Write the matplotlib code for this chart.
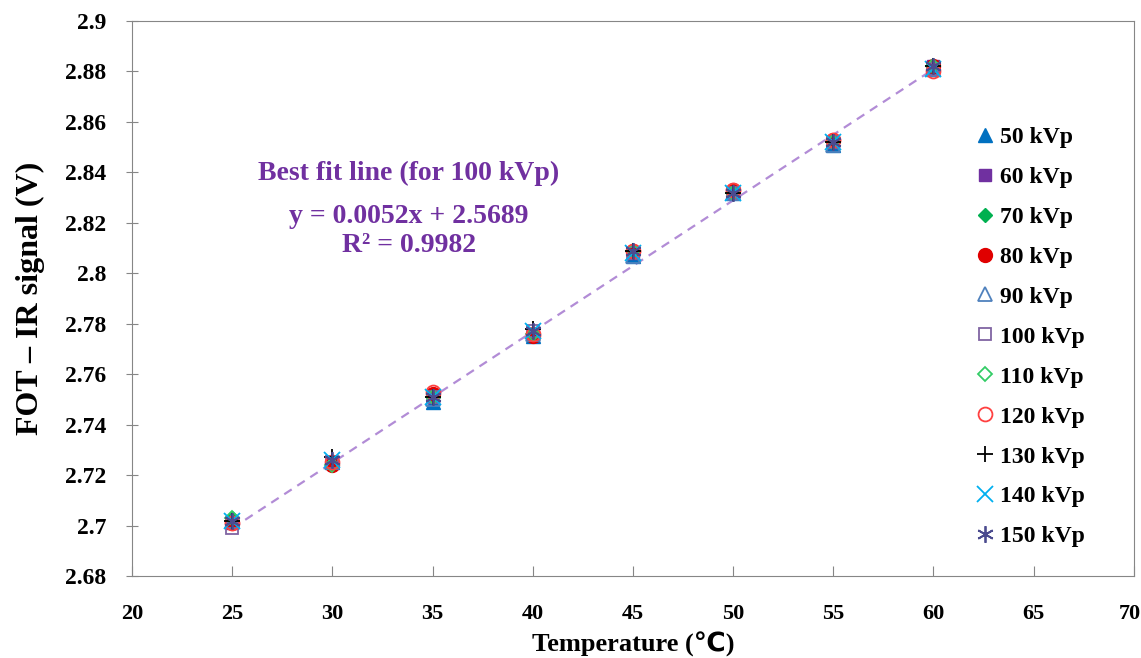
import matplotlib
matplotlib.use("Agg")
import matplotlib.pyplot as plt
from matplotlib.ticker import FuncFormatter, MultipleLocator

plt.rcParams["font.family"] = ["Liberation Serif", "DejaVu Sans"]
plt.rcParams["font.weight"] = "bold"

temperature = [25, 30, 35, 40, 45, 50, 55, 60]

kvp_50 = [2.702, 2.725, 2.749, 2.775, 2.807, 2.832, 2.851, 2.881]
kvp_60 = [2.701, 2.725, 2.751, 2.776, 2.808, 2.832, 2.852, 2.882]
kvp_70 = [2.703, 2.724, 2.751, 2.776, 2.809, 2.833, 2.852, 2.882]
kvp_80 = [2.701, 2.724, 2.752, 2.775, 2.809, 2.833, 2.853, 2.882]
kvp_90 = [2.702, 2.725, 2.750, 2.776, 2.807, 2.832, 2.851, 2.881]
kvp_100 = [2.699, 2.725, 2.751, 2.777, 2.808, 2.832, 2.852, 2.881]
kvp_110 = [2.703, 2.724, 2.751, 2.776, 2.809, 2.832, 2.852, 2.882]
kvp_120 = [2.701, 2.725, 2.753, 2.776, 2.809, 2.833, 2.853, 2.880]
kvp_130 = [2.702, 2.727, 2.751, 2.778, 2.809, 2.832, 2.852, 2.882]
kvp_140 = [2.702, 2.726, 2.751, 2.777, 2.808, 2.832, 2.852, 2.881]
kvp_150 = [2.702, 2.726, 2.751, 2.777, 2.809, 2.832, 2.852, 2.882]

x_min, x_max = 20, 70

fit_slope = 0.0052
fit_intercept = 2.5689

SERIES = [
    ("50 kVp", kvp_50, "^", "#0070C0", True),
    ("60 kVp", kvp_60, "s", "#7030A0", True),
    ("70 kVp", kvp_70, "D", "#00B050", True),
    ("80 kVp", kvp_80, "o", "#E00000", True),
    ("90 kVp", kvp_90, "^", "#4F81BD", False),
    ("100 kVp", kvp_100, "s", "#8064A2", False),
    ("110 kVp", kvp_110, "D", "#33CC66", False),
    ("120 kVp", kvp_120, "o", "#FF4040", False),
    ("130 kVp", kvp_130, "+", "#000000", None),
    ("140 kVp", kvp_140, "x", "#00B0F0", None),
    ("150 kVp", kvp_150, (6, 2, 0), "#4B4B8F", None),
]

MARKER_SIZES = {"^": 10, "s": 9, "D": 7.5, "o": 10, "+": 12, "x": 11}


def x_label_text(value: float, _pos) -> str:
    # the last label is drawn separately so it stays on the canvas
    if abs(value - x_max) < 1e-9:
        return ""
    return f"{value:g}"


def main() -> None:
    fig = plt.figure(figsize=(11.41, 6.58), dpi=100)
    ax = fig.add_axes([0.1157, 0.1246, 0.878, 0.8435])

    fit_x = [temperature[0], temperature[-1]]
    fit_y = [fit_slope * t + fit_intercept for t in fit_x]
    ax.plot(fit_x, fit_y, linestyle=(0, (4, 3)), color="#B28CD6", linewidth=1.6, zorder=1)

    for label, values, marker, color, filled in SERIES:
        size = MARKER_SIZES.get(marker, 12) if isinstance(marker, str) else 12
        if filled is True:
            ax.plot(temperature, values, linestyle="none", marker=marker, markersize=size,
                    markerfacecolor=color, markeredgecolor=color, label=label, zorder=3)
        elif filled is False:
            ax.plot(temperature, values, linestyle="none", marker=marker, markersize=size,
                    markerfacecolor="none", markeredgecolor=color, markeredgewidth=1.3,
                    label=label, zorder=3)
        else:
            ax.plot(temperature, values, linestyle="none", marker=marker, markersize=size,
                    color=color, markeredgewidth=1.3, label=label, zorder=4)

    ax.set_xlim(x_min, x_max)
    ax.set_ylim(2.68, 2.9)
    ax.xaxis.set_major_locator(MultipleLocator(5))
    ax.xaxis.set_major_formatter(FuncFormatter(x_label_text))
    ax.yaxis.set_major_locator(MultipleLocator(0.02))
    ax.yaxis.set_major_formatter(FuncFormatter(lambda v, _: f"{v:.2f}".rstrip("0").rstrip(".")))

    for spine in ax.spines.values():
        spine.set_color("#868686")
    ax.tick_params(axis="x", direction="in", length=7, color="#868686", labelsize=16, pad=20)
    ax.tick_params(axis="y", direction="inout", length=9, color="#868686", labelsize=17, pad=14)
    for lbl in ax.get_xticklabels() + ax.get_yticklabels():
        lbl.set_fontweight("bold")

    ax.annotate(f"{x_max:g}", xy=(x_max, 0), xycoords=("data", "axes fraction"),
                xytext=(5, -20), textcoords="offset points", ha="right", va="top",
                fontsize=16, fontweight="bold", annotation_clip=False)

    ax.set_xlabel("Temperature (℃)", fontsize=19, fontweight="bold", labelpad=6)
    ax.set_ylabel("FOT – IR signal (V)", fontsize=23, fontweight="bold", labelpad=14)

    text_color = "#7030A0"
    ax.text(0.2766, 0.726, "Best fit line (for 100 kVp)", transform=ax.transAxes,
            ha="center", va="center", fontsize=20, fontweight="bold", color=text_color)
    ax.text(0.2766, 0.648, "y = 0.0052x + 2.5689", transform=ax.transAxes,
            ha="center", va="center", fontsize=20, fontweight="bold", color=text_color)
    ax.text(0.2766, 0.596, "R² = 0.9982", transform=ax.transAxes,
            ha="center", va="center", fontsize=20, fontweight="bold", color=text_color)

    ax.legend(loc="upper left", bbox_to_anchor=(0.8265, 0.827), frameon=False,
              prop={"weight": "bold", "size": 17}, labelspacing=0.78,
              handletextpad=0.0, handlelength=1.3, borderaxespad=0)

    fig.savefig("out.png", dpi=100)
    plt.close(fig)


if __name__ == "__main__":
    main()
